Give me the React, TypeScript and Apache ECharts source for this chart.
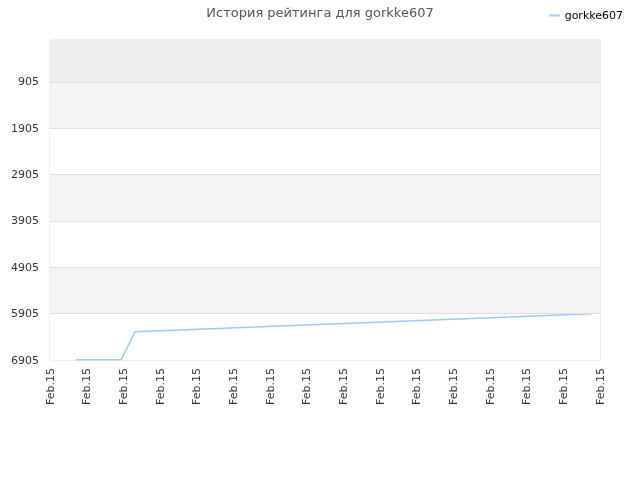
import React, { useEffect, useRef } from "react";
import * as echarts from "echarts";

const seriesName = "gorkke607";
const pointPositions = [0.71, 1.94, 2.32, 14.77];
const ratings = [6900, 6900, 6294, 5905];
const xTickLabels = [
  "Feb.15", "Feb.15", "Feb.15", "Feb.15", "Feb.15", "Feb.15", "Feb.15", "Feb.15",
  "Feb.15", "Feb.15", "Feb.15", "Feb.15", "Feb.15", "Feb.15", "Feb.15", "Feb.15",
];
const yTicks = [905, 1905, 2905, 3905, 4905, 5905, 6905];
const bandEdges = [0, 905, 1905, 2905, 3905, 4905, 5905, 6905];
const bandColors = ["#ededed", "#f3f3f3", "#ffffff", "#f3f3f3", "#ffffff", "#f3f3f3", "#ffffff"];

const FONT = "DejaVu Sans";

const App: React.FC = () => {
  const chartRef = useRef<HTMLDivElement>(null);

  useEffect(() => {
    const dom = chartRef.current;
    if (!dom) return;
    const chart = echarts.init(dom, null, { renderer: "svg" });

    const option: echarts.EChartsOption = {
      animation: false,
      textStyle: { fontFamily: FONT },
      title: {
        text: "История рейтинга для " + seriesName,
        left: "center",
        top: 1,
        textStyle: { fontSize: 13, fontWeight: "normal", color: "#555", fontFamily: FONT },
      },
      legend: {
        right: 12,
        top: 5,
        itemWidth: 10,
        itemHeight: 2,
        itemGap: 6,
        textStyle: { fontSize: 11, color: "#000", fontFamily: FONT },
        data: [seriesName],
      },
      grid: {
        left: 50,
        right: 40,
        top: 40,
        bottom: 120,
        show: true,
        borderColor: "#dddddd",
        borderWidth: 1,
        containLabel: false,
      },
      xAxis: {
        type: "value",
        min: 0,
        max: xTickLabels.length - 1,
        interval: 1,
        axisLine: { show: false },
        axisTick: { show: false },
        splitLine: { show: false },
        axisLabel: {
          rotate: 90,
          fontSize: 11,
          color: "#333",
          fontFamily: FONT,
          margin: 8,
          formatter: (v: number) => xTickLabels[Math.round(v)] ?? "",
        },
      },
      yAxis: {
        type: "value",
        inverse: true,
        min: 0,
        max: 6905,
        axisLine: { show: false },
        axisTick: { show: false },
        splitLine: { show: false },
        axisLabel: {
          customValues: yTicks,
          fontSize: 11,
          color: "#333",
          fontFamily: FONT,
          margin: 11,
          formatter: (v: number) => String(v),
        },
      } as any,
      series: [
        {
          name: seriesName,
          type: "line",
          symbol: "none",
          showSymbol: false,
          lineStyle: { color: "#9ccaf4", width: 1.5 },
          itemStyle: { color: "#9ccaf4" },
          data: pointPositions.map((x, i) => [x, ratings[i]]),
          markArea: {
            silent: true,
            data: bandColors.map((c, i) => [
              { yAxis: bandEdges[i], itemStyle: { color: c } },
              { yAxis: bandEdges[i + 1] },
            ]) as any,
          },
          markLine: {
            silent: true,
            symbol: "none",
            label: { show: false },
            lineStyle: { color: "#e0e0e0", width: 1, type: "solid" },
            data: yTicks.slice(0, -1).map((v) => ({ yAxis: v })),
          },
          z: 3,
        },
      ],
    };

    chart.setOption(option);
    return () => {
      chart.dispose();
    };
  }, []);

  return (
    <div
      ref={chartRef}
      style={{ position: "fixed", left: 0, top: 0, width: "640px", height: "480px" }}
    />
  );
};

export default App;
